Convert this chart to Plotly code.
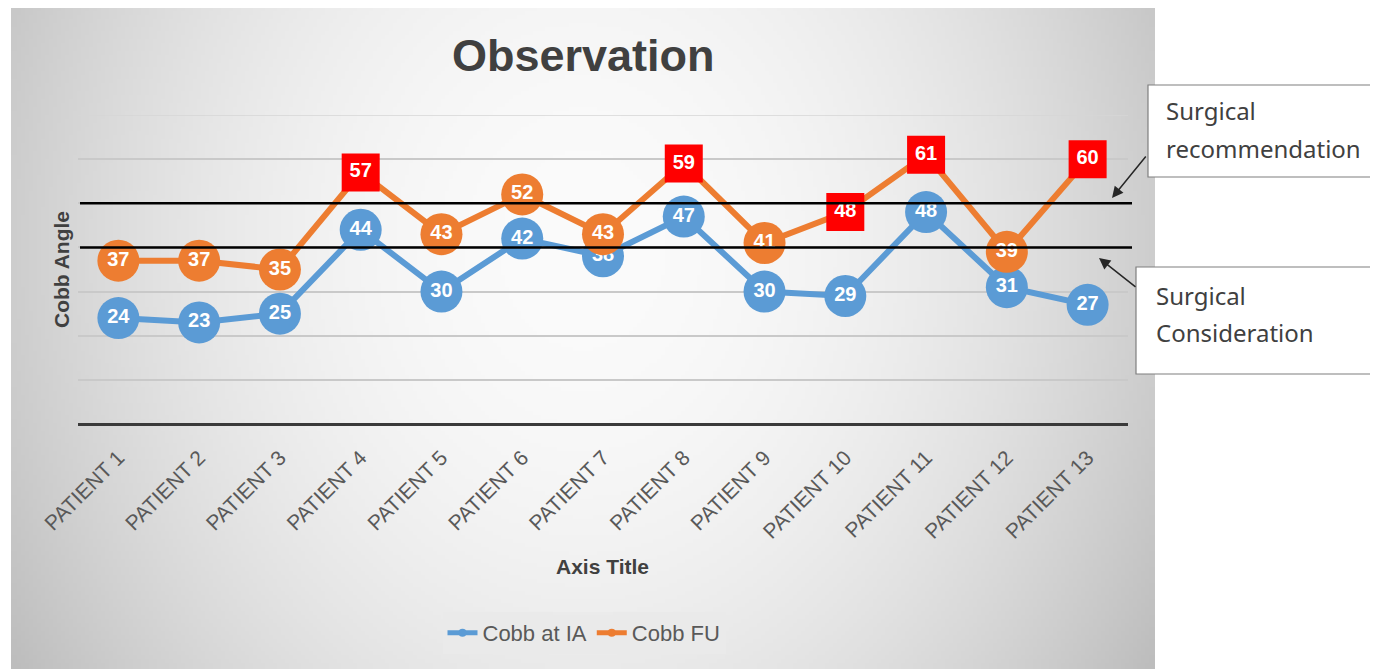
import base64, struct, zlib
import numpy as np
import plotly.graph_objects as go

patients = [f"PATIENT {i}" for i in range(1, 14)]
cobb_ia = [24, 23, 25, 44, 30, 42, 38, 47, 30, 29, 48, 31, 27]
cobb_fu = [37, 37, 35, 57, 43, 52, 43, 59, 41, 48, 61, 39, 60]
fu_flagged = [False, False, False, True, False, False, False, True, False, True, True, False, True]
surgical_recommendation = 50
surgical_consideration = 40
y_max = 70

OFF = 8  # page body margin
W, H = 1378 - OFF, 669 - OFF
L, R, T, B = 78 - OFF, 1378 - 1128, 115 - OFF, 669 - 424
PW, PH = W - L - R, H - T - B


def px_x(p):
    return (p - OFF - L) / PW


def px_y(p):
    return (H - B - (p - OFF)) / PH


# ---- background gradient image (styling only) ----
x0p, x1p, y0p, y1p = 11, 1155, 5, 669
gw, gh = 286, 166
yy, xx = np.mgrid[0:gh, 0:gw]
X = x0p + (xx + 0.5) / gw * (x1p - x0p)
Y = y0p + (yy + 0.5) / gh * (y1p - y0p)
r2 = ((X - 583) / 600.0) ** 2 + ((Y - 250) / 720.0) ** 2
v = 251 - 50 * r2
img = np.clip(v, 0, 255).astype(np.uint8)


def to_png(a):
    h, w = a.shape
    raw = b"".join(b"\x00" + a[i].tobytes() for i in range(h))

    def chunk(t, d):
        c = struct.pack(">I", len(d)) + t + d
        return c + struct.pack(">I", zlib.crc32(t + d) & 0xffffffff)

    return (b"\x89PNG\r\n\x1a\n" + chunk(b"IHDR", struct.pack(">IIBBBBB", w, h, 8, 0, 0, 0, 0))
            + chunk(b"IDAT", zlib.compress(raw, 9)) + chunk(b"IEND", b""))


bg_uri = "data:image/png;base64," + base64.b64encode(to_png(img)).decode()

BLUE = "#5b9bd5"
ORANGE = "#ed7d31"
RED = "#ff0000"
LBL = dict(family="Liberation Sans", size=20, color="white")

fig = go.Figure()

fig.add_trace(go.Scatter(
    x=patients, y=cobb_ia, mode="lines+markers+text", name="Cobb at IA",
    line=dict(color=BLUE, width=6),
    marker=dict(size=42, color=BLUE, opacity=1, line=dict(width=0)),
    text=[f"<b>{v}</b>" for v in cobb_ia], textposition="middle center",
    textfont=LBL, showlegend=False, cliponaxis=False,
))
fig.add_trace(go.Scatter(
    x=patients, y=cobb_fu, mode="lines+markers+text", name="Cobb FU",
    line=dict(color=ORANGE, width=6),
    marker=dict(size=[38 if f else 42 for f in fu_flagged],
                color=[RED if f else ORANGE for f in fu_flagged],
                symbol=["square" if f else "circle" for f in fu_flagged],
                opacity=1, line=dict(width=0)),
    text=[f"<b>{v}</b>" for v in cobb_fu], textposition="middle center",
    textfont=LBL, showlegend=False, cliponaxis=False,
))
# legend entries
fig.add_trace(go.Scatter(x=[None], y=[None], mode="lines+markers", name="Cobb at IA",
                         line=dict(color=BLUE, width=5), marker=dict(size=8, color=BLUE)))
fig.add_trace(go.Scatter(x=[None], y=[None], mode="lines+markers", name="Cobb FU",
                         line=dict(color=ORANGE, width=5), marker=dict(size=8, color=ORANGE)))

shapes = [dict(type="line", xref="paper", yref="y", x0=0, x1=1, y0=y_max, y1=y_max,
               line=dict(color="#d6d6d6", width=1.5), layer="below")]
for lvl in (surgical_recommendation, surgical_consideration):
    shapes.append(dict(type="line", xref="paper", yref="y", x0=px_x(80), x1=px_x(1132),
                       y0=lvl, y1=lvl, line=dict(color="black", width=2.5), layer="above"))
# callout boxes
shapes.append(dict(type="rect", xref="paper", yref="paper", x0=px_x(1148), x1=px_x(1377),
                   y0=px_y(177), y1=px_y(85), fillcolor="white", line=dict(color="#7f7f7f", width=1.2)))
shapes.append(dict(type="rect", xref="paper", yref="paper", x0=px_x(1136), x1=px_x(1377),
                   y0=px_y(374), y1=px_y(267), fillcolor="white", line=dict(color="#7f7f7f", width=1.2)))

TXT = dict(family="Noto Sans", size=24, color="#404040")
annotations = [
    dict(text="<b>Observation</b>", x=px_x(583), y=px_y(55), xref="paper", yref="paper",
         xanchor="center", yanchor="middle",
         showarrow=False, font=dict(family="Liberation Sans", size=45, color="#404040")),
    dict(text="<b>Cobb Angle</b>", x=px_x(61), y=px_y(270), xref="paper", yref="paper",
         xanchor="center", yanchor="middle",
         showarrow=False, textangle=-90, font=dict(family="Liberation Sans", size=21, color="#404040")),
    dict(text="<b>Axis Title</b>", x=px_x(602), y=px_y(566), xref="paper", yref="paper",
         xanchor="center", yanchor="middle",
         showarrow=False, font=dict(family="Liberation Sans", size=21, color="#404040")),
    dict(text="Surgical", x=px_x(1164), y=px_y(110), xref="paper", yref="paper",
         xanchor="left", yanchor="middle", showarrow=False, font=TXT),
    dict(text="recommendation", x=px_x(1164), y=px_y(148), xref="paper", yref="paper",
         xanchor="left", yanchor="middle", showarrow=False, font=TXT),
    dict(text="Surgical", x=px_x(1154), y=px_y(295), xref="paper", yref="paper",
         xanchor="left", yanchor="middle", showarrow=False, font=TXT),
    dict(text="Consideration", x=px_x(1154), y=px_y(332), xref="paper", yref="paper",
         xanchor="left", yanchor="middle", showarrow=False, font=TXT),
    dict(text="", x=px_x(1112), y=px_y(198), xref="paper", yref="paper", showarrow=True,
         ax=35, ay=-43, arrowhead=2, arrowsize=1.5, arrowwidth=1.5, arrowcolor="#262626"),
    dict(text="", x=px_x(1099), y=px_y(258), xref="paper", yref="paper", showarrow=True,
         ax=38, ay=30, arrowhead=2, arrowsize=1.5, arrowwidth=1.5, arrowcolor="#262626"),
]

fig.update_layout(
    width=W, height=H,
    margin=dict(l=L, r=R, t=T, b=B, pad=0),
    paper_bgcolor="white", plot_bgcolor="rgba(0,0,0,0)",
    images=[dict(source=bg_uri, xref="paper", yref="paper", x=px_x(x0p), y=px_y(y0p),
                 sizex=(x1p - x0p) / PW, sizey=(y1p - y0p) / PH, xanchor="left", yanchor="top",
                 sizing="stretch", layer="below")],
    shapes=shapes, annotations=annotations,
    showlegend=True,
    legend=dict(orientation="h", x=px_x(584), y=px_y(633), xanchor="center", yanchor="middle",
                xref="paper", yref="paper", bgcolor="rgba(234,234,234,0.95)",
                font=dict(family="Liberation Sans", size=22, color="#595959")),
    xaxis=dict(type="category", range=[-0.5, 12.5], showgrid=False, zeroline=False,
               tickangle=-45, ticks="outside", ticklen=12, tickcolor="rgba(0,0,0,0)",
               tickfont=dict(family="Liberation Sans", size=21, color="#595959"),
               showline=False),
    yaxis=dict(range=[0, y_max], dtick=10, showticklabels=False, ticks="", showgrid=True,
               gridcolor="#c9c9c9", gridwidth=1.5, zeroline=True, zerolinecolor="#3a3a3a",
               zerolinewidth=3, showline=False),
)

fig.write_html("out.html")
